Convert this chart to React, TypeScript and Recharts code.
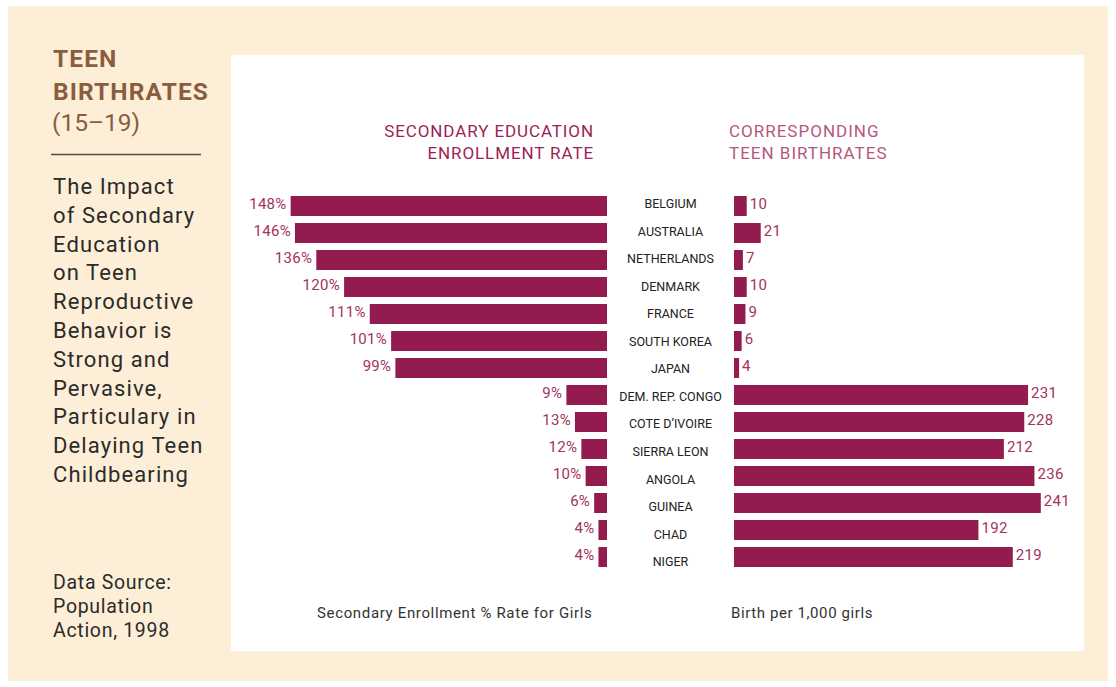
import { Bar, BarChart, LabelList, XAxis, YAxis } from 'recharts'

const countries = [
  'BELGIUM',
  'AUSTRALIA',
  'NETHERLANDS',
  'DENMARK',
  'FRANCE',
  'SOUTH KOREA',
  'JAPAN',
  'DEM. REP. CONGO',
  'COTE D’IVOIRE',
  'SIERRA LEON',
  'ANGOLA',
  'GUINEA',
  'CHAD',
  'NIGER',
]
// bar lengths as drawn in the source graphic
const enrollment = [148, 146, 136, 123, 111, 101, 99, 19, 15, 12, 10, 6, 4, 4]
// percentages printed next to the bars
const enrollmentLabels = ['148%', '146%', '136%', '120%', '111%', '101%', '99%', '9%', '13%', '12%', '10%', '6%', '4%', '4%']
const births = [10, 21, 7, 10, 9, 6, 4, 231, 228, 212, 236, 241, 192, 219]

const bodyLines = [
  'The Impact',
  'of Secondary',
  'Education',
  'on Teen',
  'Reproductive',
  'Behavior is',
  'Strong and',
  'Pervasive,',
  'Particulary in',
  'Delaying Teen',
  'Childbearing',
]
const sourceLines = ['Data Source:', 'Population', 'Action, 1998']

const data = countries.map((name, i) => ({
  name,
  enrollment: enrollment[i],
  enrollmentLabel: enrollmentLabels[i],
  births: births[i],
}))

const BAR = '#931b4f'
const LABEL = '#a3325f'
const FONT = 'Roboto, sans-serif'
const Y_AXIS_W = 127

// eslint-disable-next-line @typescript-eslint/no-explicit-any
function LeftLabel(props: any) {
  const { x, y, width, height, value } = props
  const left = Math.min(Number(x), Number(x) + Number(width))
  return (
    <text
      x={left - 4}
      y={Number(y) + Number(height) / 2 + 3}
      textAnchor='end'
      fontSize={15}
      letterSpacing={0.3}
      fill={LABEL}
      fontFamily={FONT}
    >
      {value}
    </text>
  )
}

// eslint-disable-next-line @typescript-eslint/no-explicit-any
function RightLabel(props: any) {
  const { x, y, width, height, value } = props
  const right = Math.max(Number(x), Number(x) + Number(width))
  return (
    <text
      x={right + 3}
      y={Number(y) + Number(height) / 2 + 3}
      textAnchor='start'
      fontSize={15}
      letterSpacing={0.3}
      fill={LABEL}
      fontFamily={FONT}
    >
      {value}
    </text>
  )
}

// eslint-disable-next-line @typescript-eslint/no-explicit-any
function CountryTick(props: any) {
  const { x, y, payload, index } = props
  return (
    <text
      x={Number(x) - Y_AXIS_W / 2}
      y={Number(y) + 2.5 + index * 0.55}
      textAnchor='middle'
      fontSize={12.5}
      fill='#222'
      fontFamily={FONT}
    >
      {payload.value}
    </text>
  )
}

export default function App() {
  return (
    <div style={{ position: 'absolute', left: 0, top: 0, width: 1116, height: 687, background: '#fff', overflow: 'hidden' }}>
      <div style={{ position: 'absolute', left: 8, top: 6, width: 1100, height: 675, background: '#fdefd7' }} />
      <div style={{ position: 'absolute', left: 231, top: 55, width: 853, height: 596, background: '#fff' }} />

      <svg width={1116} height={687} style={{ position: 'absolute', left: 0, top: 0 }}>
        <text x={53} y={67} fontSize={24.5} fontWeight={700} letterSpacing={1.1} fill='#8a5d3f' fontFamily={FONT}>
          TEEN
        </text>
        <text x={53} y={100} fontSize={24.5} fontWeight={700} letterSpacing={1.1} fill='#8a5d3f' fontFamily={FONT}>
          BIRTHRATES
        </text>
        <text x={52} y={131} fontSize={24.5} fill='#8a5d3f' fontFamily={FONT}>
          (15–19)
        </text>
        <line x1={51} x2={201} y1={154.5} y2={154.5} stroke='#5a4b40' strokeWidth={1.5} />
        {bodyLines.map((l, i) => (
          <text key={l} x={53} y={194 + i * 28.8} fontSize={22} letterSpacing={1.1} fill='#2b2b2b' fontFamily={FONT}>
            {l}
          </text>
        ))}
        {sourceLines.map((l, i) => (
          <text key={l} x={53} y={589 + i * 24} fontSize={19.5} letterSpacing={0.7} fill='#2b2b2b' fontFamily={FONT}>
            {l}
          </text>
        ))}

        <text x={594} y={137} textAnchor='end' fontSize={17} letterSpacing={0.9} fill='#9c1f55' fontFamily={FONT}>
          SECONDARY EDUCATION
        </text>
        <text x={594} y={159} textAnchor='end' fontSize={17} letterSpacing={0.9} fill='#9c1f55' fontFamily={FONT}>
          ENROLLMENT RATE
        </text>
        <text x={729} y={137} fontSize={17} letterSpacing={1} fill='#b5587d' fontFamily={FONT}>
          CORRESPONDING
        </text>
        <text x={729} y={159} fontSize={17} letterSpacing={1} fill='#b5587d' fontFamily={FONT}>
          TEEN BIRTHRATES
        </text>

        <text x={317} y={618} fontSize={15} letterSpacing={0.65} fill='#333' fontFamily={FONT}>
          Secondary Enrollment % Rate for Girls
        </text>
        <text x={731} y={618} fontSize={15} letterSpacing={0.6} fill='#333' fontFamily={FONT}>
          Birth per 1,000 girls
        </text>
      </svg>

      <div style={{ position: 'absolute', left: 231, top: 192 }}>
        <BarChart
          width={376}
          height={378}
          data={data}
          layout='vertical'
          margin={{ top: 0, right: 0, bottom: 0, left: 34 }}
        >
          <XAxis type='number' domain={[0, 160]} reversed hide />
          <YAxis type='category' dataKey='name' hide />
          <Bar dataKey='enrollment' fill={BAR} barSize={20} isAnimationActive={false}>
            <LabelList dataKey='enrollmentLabel' content={LeftLabel} />
          </Bar>
        </BarChart>
      </div>

      <div style={{ position: 'absolute', left: 607, top: 192 }}>
        <BarChart
          width={478}
          height={378}
          data={data}
          layout='vertical'
          margin={{ top: 0, right: 20, bottom: 0, left: 0 }}
        >
          <XAxis type='number' domain={[0, 260]} hide />
          <YAxis
            type='category'
            dataKey='name'
            width={Y_AXIS_W}
            axisLine={false}
            tickLine={false}
            tickSize={0}
            tickMargin={0}
            interval={0}
            tick={CountryTick}
          />
          <Bar dataKey='births' fill={BAR} barSize={20} isAnimationActive={false}>
            <LabelList dataKey='births' content={RightLabel} />
          </Bar>
        </BarChart>
      </div>
    </div>
  )
}
